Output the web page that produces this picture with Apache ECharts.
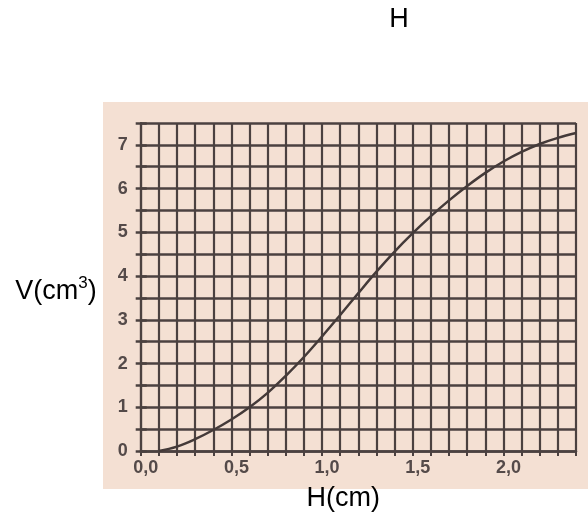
<!DOCTYPE html>
<html>
<head>
<meta charset="utf-8">
<script src="https://cdn.jsdelivr.net/npm/echarts@6/dist/echarts.min.js"></script>
<style>
  html, body { margin: 0; padding: 0; background: #fff; }
  #main { width: 588px; height: 517px; }
</style>
</head>
<body>
<div id="main"></div>
<script>
// curve: H (cm) -> V (cm3)
const hValues = [0.1, 0.2, 0.3, 0.4, 0.5, 0.6, 0.7, 0.8, 0.9, 1.0, 1.1, 1.2, 1.3, 1.4, 1.5, 1.6, 1.7, 1.8, 1.9, 2.0, 2.1, 2.2, 2.3, 2.4];
const vValues = [0, 0.1, 0.27, 0.48, 0.72, 1.0, 1.33, 1.72, 2.15, 2.62, 3.11, 3.61, 4.1, 4.56, 4.98, 5.37, 5.73, 6.06, 6.36, 6.62, 6.84, 7.02, 7.16, 7.27];
const xTickLabels = ['0,0', '0,5', '1,0', '1,5', '2,0'];
const yTickLabels = ['0', '1', '2', '3', '4', '5', '6', '7'];

const ink = '#4b4140';
const labelStyle = { color: '#544a49', fontWeight: 'bold', fontSize: 18, fontFamily: 'Liberation Sans, Arial' };

const myChart = echarts.init(document.getElementById('main'));
const option = {
  animation: false,
  title: {
    text: 'H',
    left: 394,
    top: 1,
    textAlign: 'center',
    textStyle: { fontSize: 27, fontWeight: 'normal', color: '#000', fontFamily: 'Liberation Sans, Arial' }
  },
  graphic: [{
    type: 'rect',
    left: 103,
    top: 102,
    shape: { width: 485, height: 387 },
    style: { fill: '#f4e0d3' },
    z: -10
  }],
  grid: { left: 140.7, right: 12, top: 123, bottom: 63.5 },
  xAxis: [{
    type: 'value',
    min: 0,
    max: 2.4,
    interval: 0.1,
    name: 'H(cm)',
    nameLocation: 'middle',
    nameGap: 34,
    nameTextStyle: { fontSize: 27, color: '#000', padding: [0, 30, 0, 0], fontFamily: 'Liberation Sans, Arial' },
    axisLine: { show: true, lineStyle: { color: ink, width: 2.5 } },
    axisTick: { show: true, length: 5, lineStyle: { color: ink, width: 2 } },
    axisLabel: Object.assign({
      margin: 8,
      padding: [0, 0, 0, 10],
      showMinLabel: true,
      showMaxLabel: true,
      formatter: (v) => {
        const k = Math.round(v * 2);
        return Math.abs(v * 2 - k) < 1e-6 ? (xTickLabels[k] || '') : '';
      }
    }, labelStyle),
    splitLine: { show: true, lineStyle: { color: ink, width: 2.2 } }
  }, {
    type: 'value',
    position: 'top',
    min: 0,
    max: 2.4,
    interval: 0.1,
    axisLine: { show: false },
    axisTick: { show: true, length: 5, lineStyle: { color: ink, width: 2 } },
    axisLabel: { show: false },
    splitLine: { show: false }
  }],
  yAxis: [{
    type: 'value',
    min: 0,
    max: 7.5,
    interval: 0.5,
    name: '{a|V(cm}{s|3}{a|)}',
    nameLocation: 'middle',
    nameRotate: 0,
    nameGap: 44,
    nameTextStyle: {
      padding: [0, 0, -10, 0],
      rich: {
        a: { fontSize: 27, color: '#000', fontFamily: 'Liberation Sans, Arial' },
        s: { fontSize: 17, color: '#000', verticalAlign: 'top', padding: [0, 0, 18, 0], fontFamily: 'Liberation Sans, Arial' }
      }
    },
    axisLine: { show: true, lineStyle: { color: ink, width: 2.2 } },
    axisTick: { show: true, length: 5, lineStyle: { color: ink, width: 2.5 } },
    axisLabel: Object.assign({
      margin: 13,
      padding: [6, 0, 0, 0],
      formatter: (v) => {
        const k = Math.round(v);
        return Math.abs(v - k) < 1e-6 ? (yTickLabels[k] || '') : '';
      }
    }, labelStyle),
    splitLine: { show: true, lineStyle: { color: ink, width: 2.5 } }
  }, {
    type: 'value',
    position: 'right',
    min: 0,
    max: 7.5,
    interval: 0.5,
    axisLine: { show: false },
    axisTick: { show: true, length: 6, lineStyle: { color: ink, width: 2.5 } },
    axisLabel: { show: false },
    splitLine: { show: false }
  }],
  series: [{
    type: 'line',
    smooth: 0.4,
    showSymbol: false,
    data: hValues.map((h, i) => [h, vValues[i]]),
    lineStyle: { color: '#443a39', width: 2.5 },
    z: 5
  }]
};

myChart.setOption(option);
</script>
</body>
</html>
